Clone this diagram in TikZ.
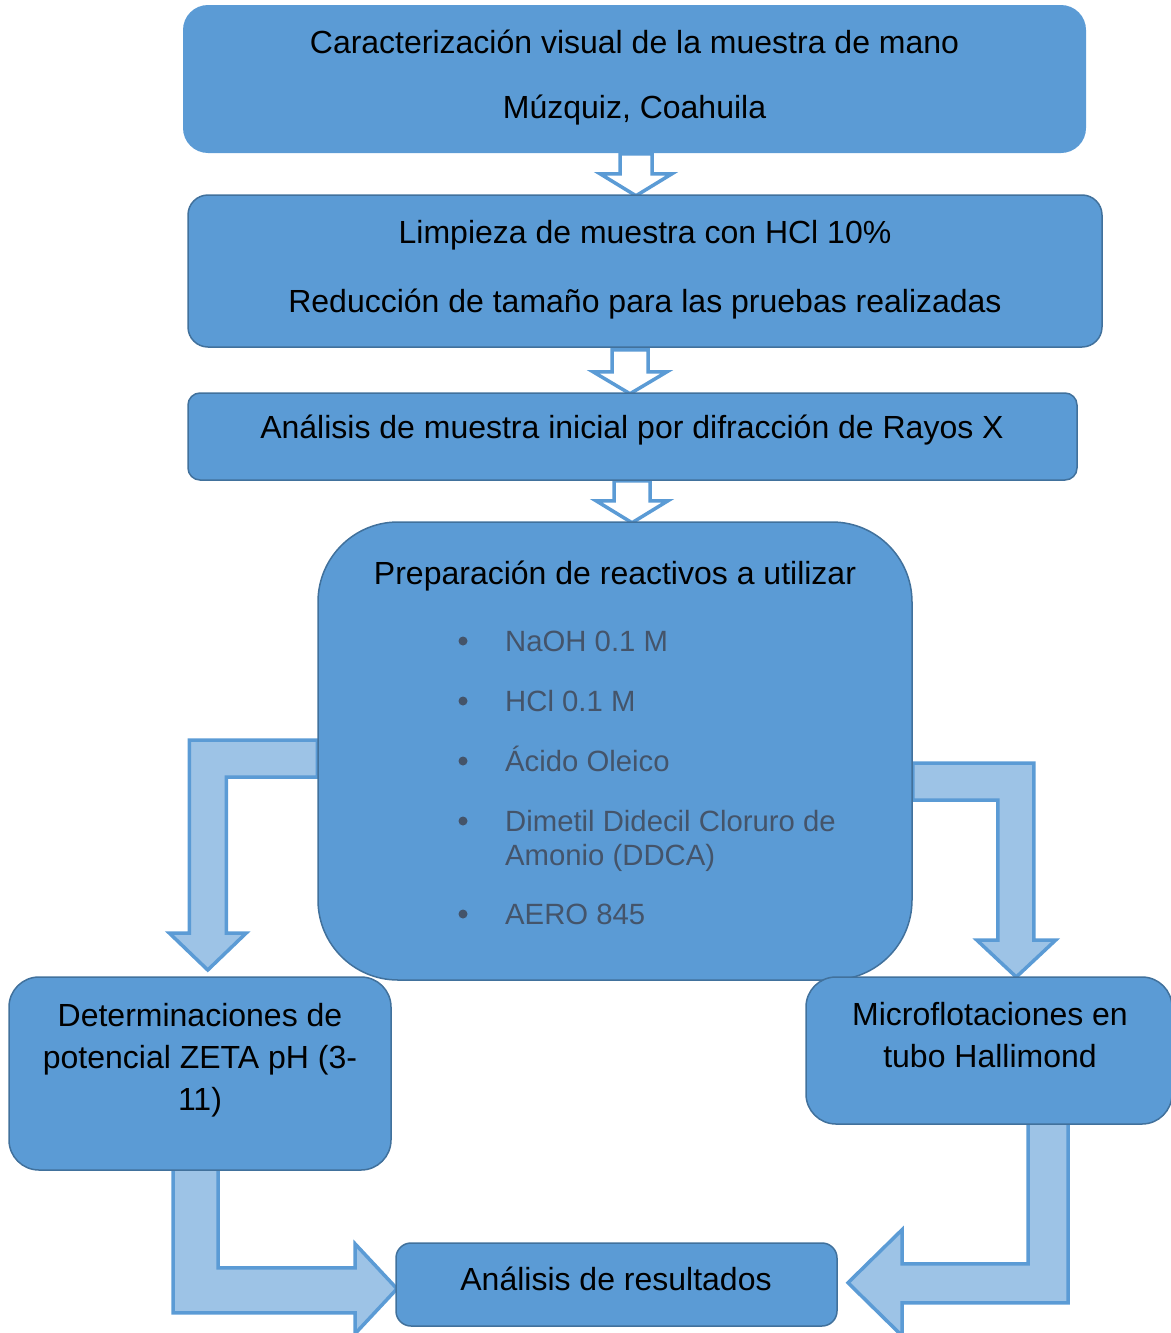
\documentclass[tikz,border=0pt]{standalone}
\usepackage{fontspec}
\setmainfont{Liberation Sans}
\usetikzlibrary{positioning,calc}
\definecolor{boxblue}{HTML}{5B9BD5}
\definecolor{boxline}{HTML}{41719C}
\definecolor{arrowfill}{HTML}{9DC3E6}
\definecolor{itemgray}{HTML}{44546A}
\pgfdeclarelayer{background}
\pgfsetlayers{background,main}

\begin{document}
\begin{tikzpicture}[x=1pt,y=-1pt,
box/.style ={draw=boxline, line width=1.5pt, fill=boxblue, inner sep=0pt, rounded corners=#1},
txt/.style ={font=\fontsize{32}{42}\selectfont, align=center, inner sep=0pt},
item/.style ={font=\fontsize{29.3}{34}\selectfont, text=itemgray, align=left, anchor=base west, inner sep=0pt},
dot/.style ={circle, fill=itemgray, inner sep=0pt, minimum size=9pt},
hollow/.style = {draw=boxblue, line width=3.5pt, fill=white, line join=miter},
elbow/.style = {draw=boxblue, line width=3.5pt, fill=arrowfill, line join=miter}]

\useasboundingbox (0,0) rectangle (1170,1333);

\node[box=25, draw=none, minimum width=903, minimum height=148] (carac) at (634.5,79) {};
\node[box=20, minimum width=914, minimum height=152] (limp) at (645,271) {};
\node[box=12, minimum width=889, minimum height=87] (anal) at (632.5,436.5) {};
\node[box=80, minimum width=594, minimum height=458] (prep) at (615,751) {};
\node[box=30, minimum width=382, minimum height=193] (zeta) at (200,1073.5) {};
\node[box=30, minimum width=366, minimum height=147] (micro) at (989,1050.5) {};
\node[box=15, minimum width=441, minimum height=83] (result) at (616.5,1284.5) {};

\node[txt] (carac_t) at (634.5,78) {Caracterización visual de la muestra de mano\\[23pt]Múzquiz, Coahuila};
\node[txt] (limp_t) at (645,270) {Limpieza de muestra con HCl 10\%\\[27pt]Reducción de tamaño para las pruebas realizadas};
\node[txt] (anal_t) at (632,430) {Análisis de muestra inicial por difracción de Rayos X};
\node[txt] (prep_t) at (615,576) {Preparación de reactivos a utilizar};
\node[txt] (zeta_t) at (200,1060) {Determinaciones de\\potencial ZETA pH (3-\\11)};
\node[txt] (micro_t) at (990,1035) {Microflotaciones en\\tubo Hallimond};
\node[txt] (result_t) at (616,1279) {Análisis de resultados};

\node[dot] (d_1) at (463,641) {};
\node[dot] (d_2) at (463,701) {};
\node[dot] (d_3) at (463,761) {};
\node[dot] (d_4) at (463,821) {};
\node[dot] (d_5) at (463,914) {};

\node[item] (naoh) at (505,651) {NaOH 0.1 M};
\node[item] (hcl) at (505,711) {HCl 0.1 M};
\node[item] (oleico) at (505,771) {Ácido Oleico};
\node[item] (ddca) at (505,865) {Dimetil Didecil Cloruro de\\Amonio (DDCA)};
\node[item] (aero) at (505,924) {AERO 845};

\begin{pgfonlayer}{background}
% straight hollow arrows
\draw[hollow] ($(carac.south)+(-14.5,0)$) -- ++(0,20) -- ++(-20,0) -- ++(36,22) -- ++(36,-22) -- ++(-20,0) -- ++(0,-20) -- cycle;
\draw[hollow] ($(limp.south)+(-33,2)$) -- ++(0,22) -- ++(-19,0) -- ++(37,22) -- ++(37,-22) -- ++(-19,0) -- ++(0,-22) -- cycle;
\draw[hollow] ($(anal.south)+(-18.5,0)$) -- ++(0,20) -- ++(-18,0) -- ++(36,22) -- ++(36,-22) -- ++(-18,0) -- ++(0,-20) -- cycle;

% bent arrows
\draw[elbow] ($(prep.west)+(0,-11)$) -- ++(-128,0) -- ++(0,193) -- ++(-20,0) -- ++(38.5,37) -- ++(38.5,-37) -- ++(-20,0) -- ++(0,-156) -- ++(91,0) -- cycle;
\draw[elbow] ($(prep.east)+(0,12)$) -- ++(121,0) -- ++(0,177) -- ++(22,0) -- ++(-39.5,37) -- ++(-39.5,-37) -- ++(21,0) -- ++(0,-140) -- ++(-85,0) -- cycle;
\draw[elbow] ($(zeta.south)+(-27,-5)$) -- ++(0,147) -- ++(182,0) -- ++(0,21) -- ++(42,-45) -- ++(-42,-45) -- ++(0,24) -- ++(-137,0) -- ++(0,-102) -- cycle;
\draw[elbow] ($(micro.south)+(79,-4)$) -- ++(0,182) -- ++(-166,0) -- ++(0,33) -- ++(-54,-53) -- ++(54,-53) -- ++(0,34) -- ++(126,0) -- ++(0,-143) -- cycle;
\end{pgfonlayer}

\end{tikzpicture}
\end{document}
